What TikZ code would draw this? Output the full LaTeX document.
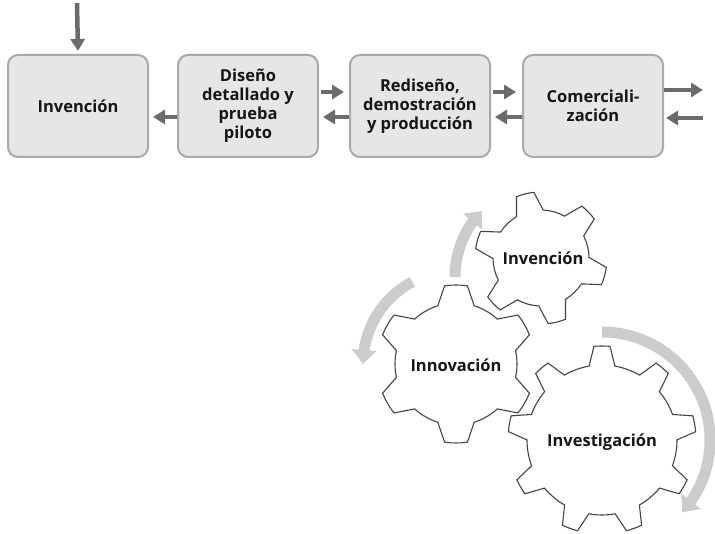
\documentclass[tikz,border=0pt]{standalone}
\usepackage{fontspec}
\setmainfont{Open Sans}
\usetikzlibrary{arrows.meta,bending}

\definecolor{boxfill}{HTML}{E6E6E6}
\definecolor{boxline}{HTML}{A9A9A9}
\definecolor{flowgray}{HTML}{6B6B6B}
\definecolor{turngray}{HTML}{CCCCCC}
\definecolor{gearline}{HTML}{444444}
\definecolor{ink}{HTML}{161616}

% Gear outline around the current origin:
% #1 tip radius, #2 root radius, #3 teeth, #4 phase,
% #5 half tip angle, #6 half root angle
\newcommand\gearoutline[6]{%
  (#4-#6:#2)
  \foreach \k [evaluate=\k as \t using #4+(\k-1)*360/#3,
               evaluate=\k as \u using #4+\k*360/#3] in {1,...,#3}{
    -- (\t-#5:#1)
    arc[start angle=\t-#5, end angle=\t+#5, radius=#1]
    -- (\t+#6:#2)
    arc[start angle=\t+#6, end angle=\u-#6, radius=#2]
  } -- cycle
}

\begin{document}
\begin{tikzpicture}[x=1pt,y=1pt,
  stage/.style={draw=boxline, line width=2pt, fill=boxfill,
    rounded corners=10pt, minimum width=140pt, minimum height=102pt,
    align=center, text=ink, inner sep=2pt,
    font=\bfseries\fontsize{16.5}{19}\selectfont},
  flow/.style={draw=flowgray, line width=4.5pt,
    -{Triangle[length=12pt,width=14pt]}},
  turn/.style={draw=turngray, line width=11pt,
    -{Triangle[length=14pt,width=24pt]}},
  gear/.style={draw=gearline, line width=1.1pt, fill=white, line join=miter},
  geartext/.style={text=ink, font=\bfseries\fontsize{16.5}{19}\selectfont}
]
\useasboundingbox (0,0) rectangle (715,534);
\fill[white] (0,0) rectangle (715,534);

% ---- stage chain ----
\node[stage] (inv) at (78,428) {Invención};
\node[stage] (dis) at (248,428) {Diseño\\detallado y\\prueba\\piloto};
\node[stage] (red) at (420,428) {Rediseño,\\demostración\\y producción};
\node[stage] (com) at (593,428) {Comerciali-\\zación};

\coordinate (src) at (77,531);
\coordinate (outR) at (703,444);
\coordinate (inR) at (703,416);

\draw[flow, shorten >=3pt] (src) -- (inv.north);
\draw[flow, shorten >=4pt] ([yshift=-11pt]dis.west) -- ([yshift=-11pt]inv.east);
\draw[flow, shorten <=2pt, shorten >=5pt] ([yshift=14pt]dis.east) -- ([yshift=14pt]red.west);
\draw[flow, shorten >=4pt] ([yshift=-11pt]red.west) -- ([yshift=-11pt]dis.east);
\draw[flow, shorten <=2pt, shorten >=6pt] ([yshift=14pt]red.east) -- ([yshift=14pt]com.west);
\draw[flow, shorten >=4pt] ([yshift=-11pt]com.west) -- ([yshift=-11pt]red.east);
\draw[flow] ([yshift=16pt]com.east) -- (outR);
\draw[flow, shorten >=2pt] (inR) -- ([yshift=-12pt]com.east);

% ---- gears ----
\coordinate (g1) at (541,276);
\coordinate (g2) at (456,170);
\coordinate (g3) at (602,94);
\coordinate (a1) at (550,257);

\draw[gear, shift={(g1)}] \gearoutline{66}{48}{6}{104}{7.8}{16.7};
\draw[gear, shift={(g2)}] \gearoutline{79}{61}{6}{90}{8.3}{17.4};
\draw[gear, shift={(g3)}] \gearoutline{94}{75}{9}{90}{4.9}{9.9};

\node[geartext] (t1) at (543,276) {Invención};
\node[geartext] (t2) at (456,169) {Innovación};
\node[geartext] (t3) at (602,92) {Investigación};

% ---- rotation arrows ----
\draw[turn] ([shift={(180:95)}]a1) arc[start angle=180, end angle=136, radius=95];
\draw[turn] ([shift={(118:93)}]g2) arc[start angle=118, end angle=180, radius=93];
\draw[turn] ([shift={(90:108)}]g3) arc[start angle=90, end angle=-42, radius=108];
\end{tikzpicture}
\end{document}
